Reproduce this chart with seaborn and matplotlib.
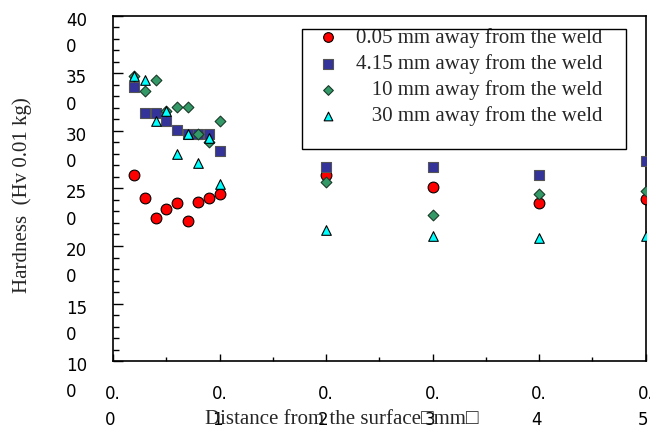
import matplotlib
matplotlib.use("Agg")
import matplotlib.pyplot as plt
import matplotlib.ticker as mtick
import matplotlib.transforms as mtrans
from matplotlib.patches import Rectangle
import pandas as pd
import seaborn as sns

# %% dados
distancia = [0.2, 0.3, 0.4, 0.5, 0.6, 0.7, 0.8, 0.9, 1.0, 2, 3, 4, 5]
dureza_005 = [262, 242, 224, 232, 237, 222, 238, 242, 245, 262, 251, 237, 241]
dureza_415 = [338, 316, 316, 309, 301, 297, 297, 297, 283, 269, 269, 262, 274]
dureza_10 = [348, 335, 344, 317, 321, 321, 297, 290, 309, 256, 227, 245, 248]
dureza_30 = [348, 344, 309, 317, 280, 297, 272, 294, 254, 214, 209, 207, 209]

series = ["0.05 mm away from the weld", "4.15 mm away from the weld",
          "10 mm away from the weld", "30 mm away from the weld"]
recuo_legenda = [0, 0, 3, 3]  # espacos antes do texto na legenda

x_ticks = [0, 1, 2, 3, 4, 5]
x_tick_labels = ["0.\n0", "0.\n1", "0.\n2", "0.\n3", "0.\n4", "0.\n5"]
y_ticks = [100, 150, 200, 250, 300, 350, 400]
y_tick_labels = ["10\n0", "15\n0", "20\n0", "25\n0", "30\n0", "35\n0", "40\n0"]

df = pd.DataFrame({
    "Distancia": distancia * 4,
    "Dureza": dureza_005 + dureza_415 + dureza_10 + dureza_30,
    "Serie": [s for s in series for _ in distancia],
})

# %% estilo
sns.set_style("ticks", {"xtick.direction": "in", "ytick.direction": "in",
                        "axes.edgecolor": "black"})
plt.rcParams["font.family"] = ["DejaVu Sans"]
serif = ["Liberation Serif", "DejaVu Sans"]

estilos = {
    series[0]: dict(marker="o", color="#FF0000", s=60, edgecolor="black"),
    series[1]: dict(marker="s", color="#333399", s=58, edgecolor="#555555"),
    series[2]: dict(marker="D", color="#339966", s=30, edgecolor="#1a3a2a"),
    series[3]: dict(marker="^", color="#00FFFF", s=48, edgecolor="black"),
}

fig = plt.figure(figsize=(6.5, 4.32), dpi=100)
ax = fig.add_axes([113 / 650, 1 - 361 / 432, 532.7 / 650, 345 / 432])

for i, nome in enumerate(series):
    sns.scatterplot(data=df[df["Serie"] == nome], x="Distancia", y="Dureza",
                    linewidth=0.8, zorder=3 + i, ax=ax,
                    label=" " * recuo_legenda[i] + nome, **estilos[nome])

ax.set_xlim(0, 5)
ax.set_ylim(100, 400)
ax.set_xticks(x_ticks, x_tick_labels, ha="center", multialignment="left",
              linespacing=1.6)
ax.set_yticks(y_ticks, y_tick_labels, va="top", multialignment="left",
              linespacing=1.6)
ax.xaxis.set_minor_locator(mtick.MultipleLocator(0.5))
ax.yaxis.set_minor_locator(mtick.MultipleLocator(10))
ax.tick_params(axis="both", which="both", direction="in", colors="black",
               labelsize=12, width=1, top=False, right=False)
ax.tick_params(axis="y", which="major", length=7, pad=18.5)
ax.tick_params(axis="y", which="minor", length=4)
ax.tick_params(axis="x", which="major", length=5, pad=17)
ax.tick_params(axis="x", which="minor", length=3)
for sp in ax.spines.values():
    sp.set_linewidth(1.2)
    sp.set_color("black")

# sobe um pouco os rotulos do eixo y
sobe = mtrans.ScaledTranslation(0, 4 / 100, fig.dpi_scale_trans)
for lab in ax.get_yticklabels():
    lab.set_transform(lab.get_transform() + sobe)

ax.set_xlabel("Distance from the surface\u25a1mm\u25a1", family=serif,
              fontsize=15, ha="left", va="center")
ax.xaxis.set_label_coords((205 - 113) / 532.7, (361 - 420) / 345)
ax.set_ylabel("Hardness  (Hv 0.01 kg)", family=serif, fontsize=15,
              va="center", ha="center")
ax.yaxis.set_label_coords((21.7 - 113) / 532.7, (361 - 195) / 345)

leg = ax.legend(loc="upper left", bbox_to_anchor=(318 / 650, 1 - 28 / 432),
                bbox_transform=fig.transFigure, borderaxespad=0, borderpad=0,
                frameon=False, handlelength=1.0, handletextpad=0.8,
                labelspacing=0.3, markerscale=0.9,
                prop={"family": serif, "size": 15})
fig.add_artist(Rectangle((302 / 650, 1 - 149 / 432), 324 / 650, 120 / 432,
                         transform=fig.transFigure, fill=False,
                         edgecolor="black", linewidth=1, zorder=10))

fig.savefig("out.png", dpi=100)
